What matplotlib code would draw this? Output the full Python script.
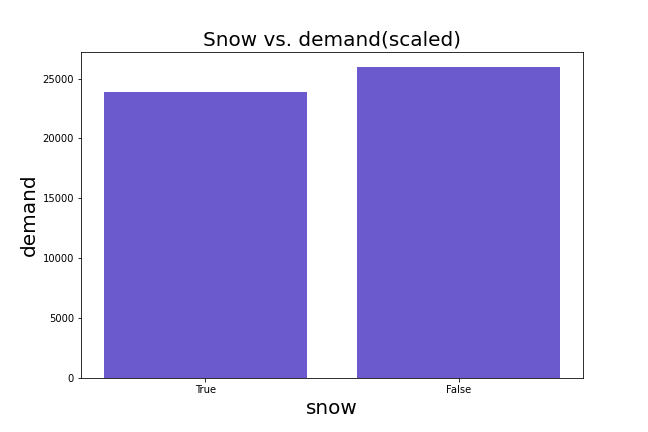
import matplotlib
matplotlib.use("Agg")
import matplotlib.pyplot as plt

snow = ["True", "False"]
demand = [23850, 25930]

fig, ax = plt.subplots(figsize=(9, 6), dpi=72)
fig.subplots_adjust(bottom=0.125)
ax.bar(snow, demand, width=0.8, color="slateblue")
ax.set_xlim(-0.49, 1.49)
ax.set_title("Snow vs. demand(scaled)", fontsize=20)
ax.set_xlabel("snow", fontsize=20)
ax.set_ylabel("demand", fontsize=20)
fig.savefig("out.png", dpi=72)
